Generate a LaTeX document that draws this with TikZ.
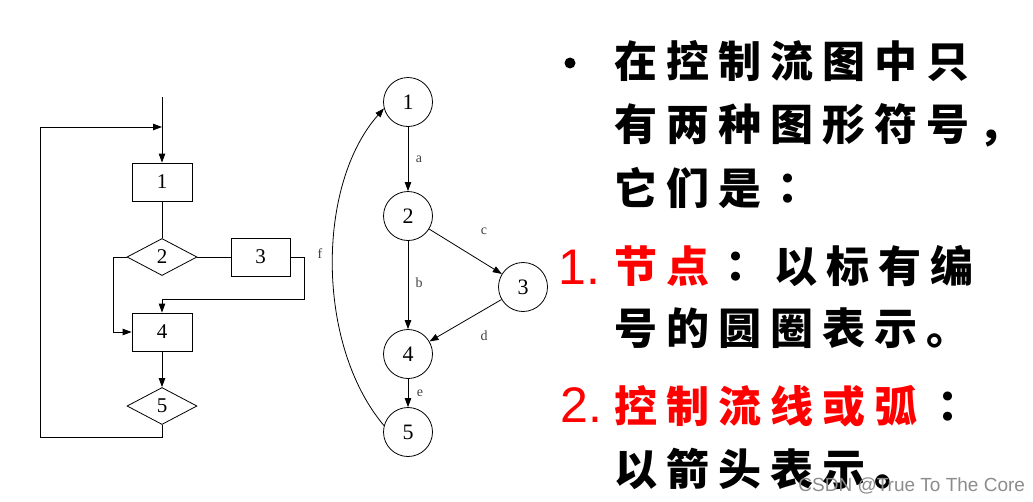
\documentclass[tikz,border=0pt]{standalone}
\usepackage{fontspec}
\setmainfont{Liberation Serif}
\newfontfamily\cjk[LetterSpace=21]{Noto Sans CJK SC}
\newfontfamily\cjkc{Noto Sans CJK TC}
\newfontfamily\arialf{Liberation Sans}
\usetikzlibrary{shapes.geometric,arrows.meta}
\definecolor{redtxt}{RGB}{255,0,0}
\begin{document}
\begin{tikzpicture}[x=1pt,y=-1pt,
  every path/.style={line width=0.8pt},
  arr/.style={-{Triangle[length=9pt,width=6.5pt]}},
  fbox/.style={draw,rectangle,minimum width=60pt,minimum height=38pt,inner sep=0pt,font=\fontsize{21}{21}\selectfont},
  fdia/.style={draw,diamond,aspect=1.9,minimum width=70pt,minimum height=37pt,inner sep=0pt,font=\fontsize{21}{21}\selectfont},
  gnode/.style={draw,circle,minimum size=49pt,inner sep=0pt,font=\fontsize{22}{22}\selectfont},
  lab/.style={inner sep=0pt,text=black!75,font=\fontsize{14}{14}\selectfont},
  cjkline/.style={anchor=base west,inner sep=0pt,font=\fontsize{43}{48}\selectfont\cjk\bfseries},
  colon/.style={anchor=base,inner sep=0pt,font=\fontsize{43}{48}\selectfont\cjkc\bfseries},
  numl/.style={anchor=base west,inner sep=0pt,text=redtxt,font=\fontsize{50}{50}\selectfont\arialf}]
\useasboundingbox (0,0) rectangle (1033,501);
% ---- flowchart ----
\node[fbox] (b1) at (162,182) {1};
\node[fdia] (d2) at (162,257) {2};
\node[fbox,minimum width=59pt] (b3) at (260.5,257) {3};
\node[fbox] (b4) at (162,332) {4};
\node[fdia] (d5) at (162,406) {5};
\coordinate (top) at (162,97);
\coordinate (j) at (162,127);
\coordinate (r3) at (304,299);
\coordinate (t4) at (162,299);
\coordinate (l2) at (113,332);
\coordinate (bl) at (40,437);
\draw[arr] (top) -- (b1.north);
\draw (b1) -- (d2);
\draw (d2) -- (b3);
\draw[arr] (b3.east) -| (r3) -- (t4) -- (b4.north);
\draw[arr] (d2.west) -| (l2) -- (b4.west);
\draw[arr] (b4) -- (d5);
\draw[arr] (d5.south) |- (bl) |- (j);
% ---- flow graph ----
\node[gnode] (c1) at (408,102) {1};
\node[gnode] (c2) at (408,216) {2};
\node[gnode] (c3) at (523,287) {3};
\node[gnode] (c4) at (408,354) {4};
\node[gnode] (c5) at (408,432) {5};
\draw[arr] (c1) -- (c2);
\draw[arr] (c2) -- (c4);
\draw[arr] (c2) -- (c3);
\draw[arr] (c3) -- (c4);
\draw[arr] (c4) -- (c5);
\draw[arr] (c5.165) .. controls (316,345) and (316,185) .. (c1.195);
\node[lab] (la) at (419,159) {a};
\node[lab] (lb) at (419,283) {b};
\node[lab] (lc) at (484,231) {c};
\node[lab] (ld) at (484,336) {d};
\node[lab] (le) at (420,393) {e};
\node[lab] (lf) at (320,254) {f};
% ---- text ----
\node[circle,fill=black,inner sep=0pt,minimum size=11pt] (bul) at (570,63) {};
\node[cjkline] (t1) at (614,77) {在控制流图中只};
\node[cjkline] (t2) at (614,140) {有两种图形符号，};
\node[cjkline] (t3) at (614,204) {它们是};
\node[colon] (k3) at (788,204) {：};
\node[numl] (n1) at (558,284) {1.};
\node[cjkline,text=redtxt] (t4a) at (614,282) {节点};
\node[colon] (k4) at (736,282) {：};
\node[cjkline] (t4b) at (774,282) {以标有编};
\node[cjkline] (t5) at (614,344) {号的圆圈表示。};
\node[numl] (n2) at (560,422) {2.};
\node[cjkline,text=redtxt] (t6) at (614,422) {控制流线或弧};
\node[colon] (k6) at (948,422) {：};
\node[cjkline] (t7) at (614,485) {以箭头表示。};
\node[anchor=base west,inner sep=0pt,text=black!45,font=\fontsize{19}{19}\selectfont\arialf] (wm) at (798,491) {CSDN @True To The Core};
\end{tikzpicture}
\end{document}
